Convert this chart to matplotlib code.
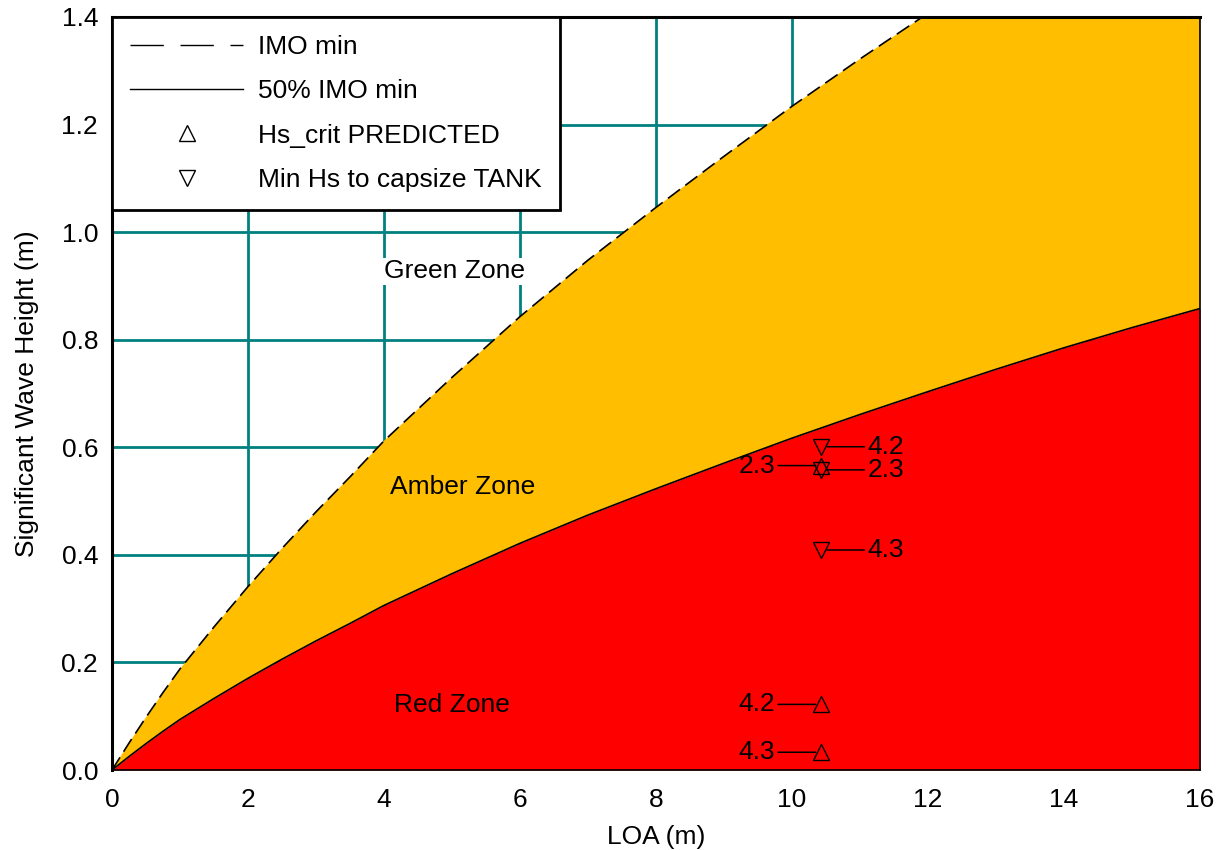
import matplotlib
matplotlib.use("Agg")
import matplotlib.pyplot as plt
from matplotlib.lines import Line2D

plt.rcParams['font.family'] = ['Liberation Sans', 'DejaVu Sans']

# ── Data ──
loa = [0, 0.25, 0.5, 0.75, 1, 1.5, 2, 2.5, 3, 3.5, 4, 5, 6, 7, 8, 9, 10, 11, 12, 13, 14, 15, 16]
imo_min = [0, 0.050, 0.098, 0.144, 0.188, 0.266, 0.341, 0.412, 0.480, 0.545, 0.612, 0.730,
           0.843, 0.948, 1.046, 1.141, 1.234, 1.322, 1.407, 1.490, 1.570, 1.645, 1.716]
imo_half = [0, 0.025, 0.049, 0.072, 0.094, 0.133, 0.1705, 0.206, 0.240, 0.2725, 0.306, 0.365,
            0.4215, 0.474, 0.523, 0.5705, 0.617, 0.661, 0.7035, 0.745, 0.785, 0.8225, 0.858]

pred_x = [10.43, 10.43, 10.43]
pred_hs = [0.566, 0.122, 0.033]
pred_lbl = ['2.3', '4.2', '4.3']

tank_x = [10.43, 10.43, 10.43]
tank_hs = [0.601, 0.558, 0.409]
tank_lbl = ['4.2', '2.3', '4.3']

FS = 19
MS = 11

fig = plt.figure(figsize=(12.21, 8.5), dpi=100)
ax = fig.add_axes([112 / 1221, 1 - 770 / 850, 1088 / 1221, 753 / 850])

# ── Zones ──
ax.fill_between(loa, 0, imo_half, color='#ff0000', zorder=2, lw=0)
ax.fill_between(loa, imo_half, imo_min, color='#ffbf00', zorder=2, lw=0)
ax.plot(loa, imo_min, color='black', lw=1.2, dashes=(9, 4), zorder=3)
ax.plot(loa, imo_half, color='black', lw=1.2, zorder=3)

# ── Points with leader labels ──
ax.plot(pred_x, pred_hs, ls='none', marker='^', ms=MS, mfc='none', mec='black',
        mew=1.0, zorder=5)
ax.plot(tank_x, tank_hs, ls='none', marker='v', ms=MS, mfc='none', mec='black',
        mew=1.0, zorder=5)
for x, y, s in zip(pred_x, pred_hs, pred_lbl):
    ax.annotate(s, (x, y), xytext=(-46, 0), textcoords='offset pixels',
                ha='right', va='center', fontsize=FS, zorder=6,
                arrowprops=dict(arrowstyle='-', color='black', lw=1.1,
                                shrinkA=0, shrinkB=4))
for x, y, s in zip(tank_x, tank_hs, tank_lbl):
    ax.annotate(s, (x, y), xytext=(46, 0), textcoords='offset pixels',
                ha='left', va='center', fontsize=FS, zorder=6,
                arrowprops=dict(arrowstyle='-', color='black', lw=1.1,
                                shrinkA=0, shrinkB=4))

# ── Zone labels ──
ax.text(5.03, 0.927, 'Green Zone', ha='center', va='center', fontsize=FS, zorder=4,
        bbox=dict(facecolor='white', edgecolor='none', pad=1))
ax.text(5.16, 0.526, 'Amber Zone', ha='center', va='center', fontsize=FS, zorder=4)
ax.text(5.0, 0.121, 'Red Zone', ha='center', va='center', fontsize=FS, zorder=4)

# ── Axes setup ──
ax.set_xlim(0, 16)
ax.set_ylim(0, 1.4)
ax.set_xticks(range(0, 17, 2))
ax.set_yticks([0, 0.2, 0.4, 0.6, 0.8, 1.0, 1.2, 1.4])
ax.set_yticklabels([f'{v:.1f}' for v in ax.get_yticks()])
ax.grid(True, color='#008080', lw=2.0, zorder=1)
ax.set_axisbelow(True)
ax.tick_params(axis='x', length=0, pad=13, labelsize=FS)
ax.tick_params(axis='y', length=0, pad=10, labelsize=FS)
for side in ('top', 'left'):
    ax.spines[side].set_linewidth(2.2)
for side in ('bottom', 'right'):
    ax.spines[side].set_linewidth(1.2)
ax.set_xlabel('LOA (m)', fontsize=FS, labelpad=9)
ax.set_ylabel('Significant Wave Height (m)', fontsize=FS, labelpad=16)

# ── Legend ──
handles = [
    Line2D([], [], color='black', lw=1.0, dashes=(24, 12)),
    Line2D([], [], color='black', lw=1.0),
    Line2D([], [], ls='none', marker='^', ms=MS, mfc='none', mec='black', mew=1.0),
    Line2D([], [], ls='none', marker='v', ms=MS, mfc='none', mec='black', mew=1.0),
]
labels = ['IMO min', '50% IMO min', 'Hs_crit PREDICTED', 'Min Hs to capsize TANK']
leg = ax.legend(handles, labels, loc='upper left', fontsize=FS, fancybox=False,
                framealpha=1, edgecolor='black', borderaxespad=0, handlelength=4.3,
                handletextpad=0.57, labelspacing=0.77, borderpad=0.68)
leg.get_frame().set_linewidth(2.0)
leg.set_zorder(10)

fig.savefig('out.png', dpi=100)
